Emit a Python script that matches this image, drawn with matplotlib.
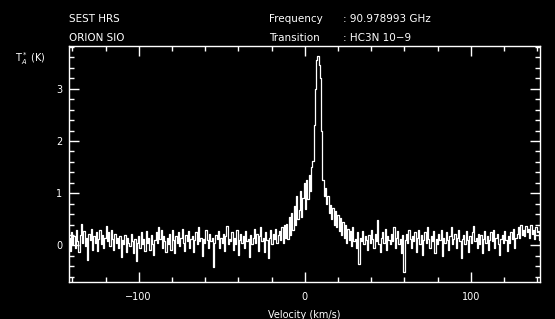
import numpy as np
import matplotlib
matplotlib.use('Agg')
import matplotlib.pyplot as plt
from matplotlib.ticker import MultipleLocator

###############################################
### Datos (T_A* en K, canales de 0.75 km/s desde -142 km/s)

v_start = -142.0
v_step = 0.75

ta = [
    0.15, -0.10, 0.25, 0.02, 0.18, -0.05, 0.30, 0.08, -0.12, 0.20,
    0.42, 0.05, 0.28, -0.02, 0.15, -0.28, 0.22, 0.10, 0.32, -0.08,
    0.18, 0.05, 0.25, -0.10, 0.12, 0.30, 0.02, 0.20, -0.05, 0.15,
    0.38, 0.08, 0.25, -0.02, 0.30, 0.12, -0.08, 0.22, 0.05, 0.15,
    -0.05, 0.18, -0.22, 0.10, 0.02, 0.20, -0.12, 0.15, 0.05, -0.02,
    0.22, 0.08, -0.15, 0.12, -0.30, 0.05, 0.18, -0.05, 0.25, 0.02,
    0.12, -0.10, 0.28, 0.05, 0.15, -0.08, 0.20, 0.02, -0.18, 0.10,
    0.25, 0.05, 0.35, 0.12, 0.30, -0.05, 0.18, 0.08, -0.12, 0.15,
    0.02, 0.22, -0.08, 0.30, 0.10, -0.15, 0.18, 0.05, 0.25, -0.02,
    0.15, 0.32, 0.05, -0.10, 0.20, 0.08, 0.28, -0.05, 0.12, 0.18,
    -0.12, 0.10, 0.25, 0.02, 0.35, 0.08, 0.15, -0.20, 0.12, 0.05,
    0.30, 0.10, -0.05, 0.22, 0.08, 0.15, -0.42, 0.05, 0.20, 0.12,
    0.28, -0.05, 0.15, 0.05, 0.22, -0.10, 0.18, 0.38, 0.02, 0.12,
    0.08, 0.25, -0.08, 0.15, 0.02, 0.30, -0.18, 0.10, 0.22, 0.05,
    0.18, -0.05, 0.28, 0.08, 0.12, -0.22, 0.20, 0.02, 0.15, 0.32,
    0.05, 0.22, -0.10, 0.18, 0.35, 0.08, 0.15, -0.12, 0.25, 0.10,
    -0.25, 0.15, 0.30, 0.02, 0.22, 0.12, 0.32, 0.05, 0.20, 0.28,
    0.10, 0.35, 0.05, 0.40, 0.15, 0.42, 0.12, 0.55, 0.20, 0.62,
    0.30, 0.75, 0.40, 0.95, 0.50, 0.68, 1.05, 0.55, 0.90, 1.20,
    0.70, 1.25, 0.88, 1.35, 1.05, 1.50, 1.62, 2.30, 3.00, 3.55,
    3.62, 3.45, 3.20, 2.20, 1.25, 0.95, 1.10, 0.80, 0.95, 0.62,
    0.78, 0.50, 0.72, 0.40, 0.65, 0.35, 0.58, 0.28, 0.52, 0.20,
    0.45, 0.15, 0.40, 0.05, 0.32, 0.10, 0.28, -0.02, 0.35, 0.08,
    0.12, -0.05, 0.25, -0.35, 0.15, 0.08, 0.28, 0.02, 0.18, 0.10,
    -0.08, 0.20, 0.05, 0.30, 0.12, -0.05, 0.22, 0.08, 0.48, 0.02,
    -0.12, 0.15, 0.25, 0.05, 0.32, -0.08, 0.18, 0.10, 0.02, 0.22,
    0.08, 0.35, -0.05, 0.15, 0.28, 0.02, 0.12, -0.15, 0.20, -0.50,
    0.10, 0.22, 0.05, 0.30, 0.12, -0.05, 0.18, 0.08, 0.25, -0.12,
    0.15, 0.30, 0.02, 0.20, -0.18, 0.10, 0.25, 0.05, 0.35, 0.12,
    -0.05, 0.18, 0.08, 0.28, -0.15, 0.12, 0.02, 0.22, 0.10, 0.30,
    -0.20, 0.15, 0.05, 0.25, 0.10, -0.08, 0.18, 0.35, 0.02, 0.12,
    0.22, -0.05, 0.15, 0.30, 0.08, -0.25, 0.12, 0.20, 0.02, 0.28,
    0.10, -0.12, 0.18, 0.05, 0.25, 0.38, 0.08, 0.15, -0.05, 0.22,
    0.02, 0.20, -0.15, 0.12, 0.28, 0.05, 0.18, -0.08, 0.10, 0.25,
    0.08, 0.30, -0.05, 0.15, 0.22, 0.02, -0.18, 0.12, 0.20, 0.05,
    0.28, 0.10, -0.10, 0.18, 0.05, 0.25, 0.12, 0.32, -0.05, 0.15,
    0.22, 0.35, 0.15, 0.40, 0.20, 0.30, 0.18, 0.38, 0.25, 0.32,
    0.15, 0.40, 0.22, 0.30, 0.12, 0.35, 0.25, 0.28, 0.10, 0.20,
]

vel = v_start + v_step * np.arange(len(ta))

###############################################
### Espacio de dibujo

fig = plt.figure(figsize=(5.55, 3.19), dpi=100, facecolor='black')
ax = fig.add_axes([0.1243, 0.116, 0.8495, 0.740], facecolor='black')

ax.plot(vel, ta, color='white', lw=0.9, drawstyle='steps-mid')

ax.set_xlim(-142, 142)
ax.set_ylim(-0.7, 3.82)

for s in ax.spines.values():
    s.set_color('white')
    s.set_linewidth(1.0)

ax.xaxis.set_major_locator(MultipleLocator(100))
ax.xaxis.set_minor_locator(MultipleLocator(20))
ax.yaxis.set_major_locator(MultipleLocator(1))
ax.yaxis.set_minor_locator(MultipleLocator(0.2))
ax.tick_params(which='both', direction='in', top=True, right=True,
               colors='white', labelsize=7, width=1.0)
ax.tick_params(which='major', length=7)
ax.tick_params(which='minor', length=3.5)
ax.tick_params(axis='x', pad=7)
ax.tick_params(axis='y', pad=5)

###############################################
### Notas

ax.set_xlabel('Velocity (km/s)', color='white', fontsize=7, labelpad=6)
fig.text(15 / 555, 1 - 62 / 319, r'T$_A^*$ (K)', color='white', fontsize=7)

fs = 7.5
fig.text(69 / 555, 1 - 22 / 319, 'SEST HRS', color='white', fontsize=fs)
fig.text(69 / 555, 1 - 41 / 319, 'ORION SIO', color='white', fontsize=fs)
fig.text(269 / 555, 1 - 22 / 319, 'Frequency', color='white', fontsize=fs)
fig.text(343 / 555, 1 - 22 / 319, ': 90.978993 GHz', color='white', fontsize=fs)
fig.text(269 / 555, 1 - 41 / 319, 'Transition', color='white', fontsize=fs)
fig.text(343 / 555, 1 - 41 / 319, ': HC3N 10\u22129', color='white', fontsize=fs)

###############################################
### Imprimir

fig.savefig('out.png', dpi=100, facecolor='black')
